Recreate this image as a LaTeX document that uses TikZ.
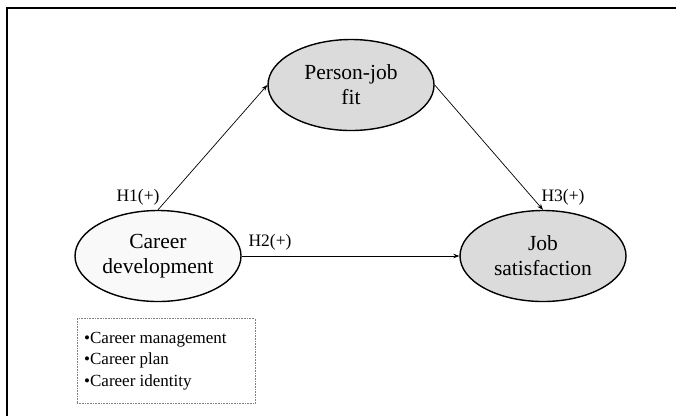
\documentclass[tikz,border=0pt]{standalone}
\usepackage{fontspec}
\setmainfont{Liberation Serif}
\usetikzlibrary{shapes.geometric,arrows.meta}
\begin{document}
\begin{tikzpicture}[x=1pt,y=-1pt,
  oval/.style={ellipse,draw=black,line width=1.4pt,minimum width=166pt,minimum height=91pt,inner sep=0pt,align=center,font=\fontsize{21.5}{25}\selectfont},
  conn/.style={line width=0.7pt,-{Stealth[length=6pt,width=4.5pt]}},
  hlab/.style={font=\fontsize{17.5}{20}\selectfont,inner sep=0pt},
  frameline/.style={line width=2pt}]
\useasboundingbox (0,0) rectangle (676,416);
\draw[frameline] (7,416) -- (7,8) -- (676,8);
\node[oval,fill=gray!28] (pj) at (351,85) {Person-job\\fit};
\node[oval,fill=gray!5] (cd) at (158,256) {Career\\development};
\node[oval,fill=gray!28] (js) at (543,256) {Job\\satisfaction};
\draw[conn] (cd.north) -- (pj.west);
\draw[conn] (pj.east) -- (js.north);
\draw[conn] (cd.east) -- (js.west);
\node[hlab] (h1) at (138,197) {H1(+)};
\node[hlab] (h2) at (270,242) {H2(+)};
\node[hlab] (h3) at (563,197) {H3(+)};
\node[draw=gray,densely dotted,line width=0.6pt,minimum width=178pt,minimum height=85pt,inner sep=0pt] (box) at (166,361) {};
\node[anchor=north west,align=left,inner sep=0pt,font=\fontsize{17}{21.5}\selectfont] (items) at (84,332) {\textbullet Career management\\\textbullet Career plan\\\textbullet Career identity};
\end{tikzpicture}
\end{document}
